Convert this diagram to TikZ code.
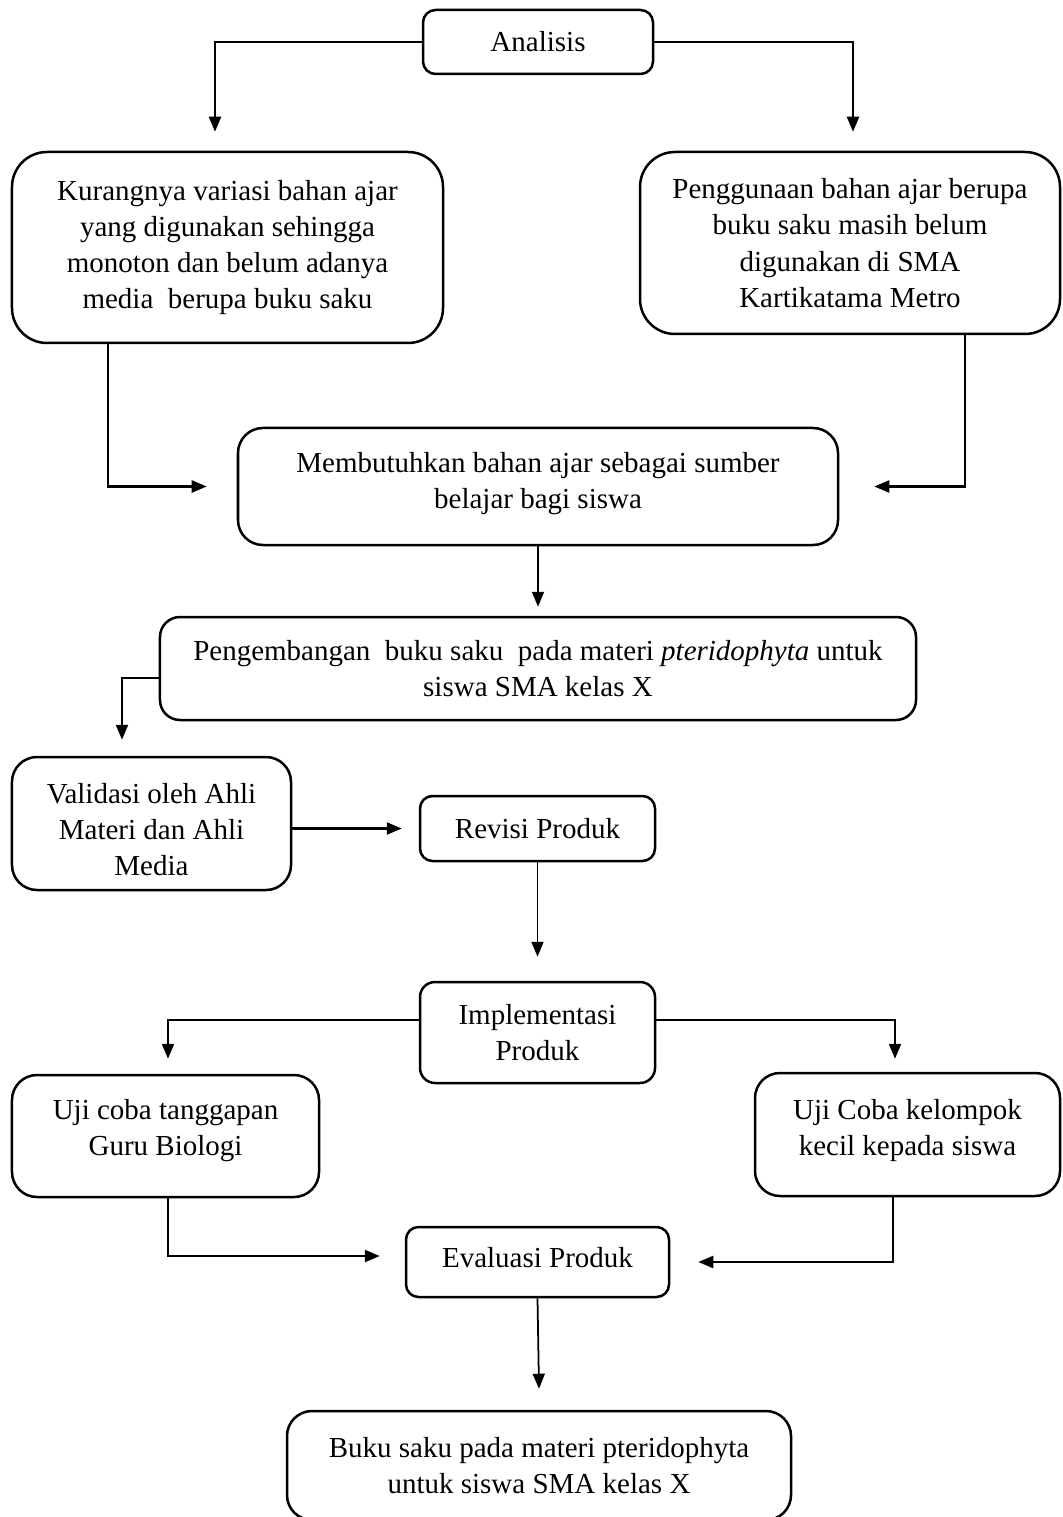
\documentclass[tikz,border=0pt]{standalone}
\usepackage{fontspec}
\setmainfont{Liberation Serif}
\usetikzlibrary{arrows.meta,calc}
\tikzset{
  box/.style={draw, line width=1pt, inner sep=0pt, align=center,
    font=\fontsize{11.6}{14.5}\selectfont},
  conn/.style={line width=0.9pt, -{Triangle[length=6pt,width=4.8pt]}},
  thin/.style={line width=0.7pt, -{Triangle[length=6pt,width=4.8pt]}}
}
\begin{document}
\begin{tikzpicture}[x=0.4pt,y=-0.4pt]
\useasboundingbox (0,0) rectangle (1062,1517);
\node[box, rounded corners=5pt, minimum width=92pt, minimum height=25.6pt] (an) at (538,42) {Analisis};
\node[box, rounded corners=14pt, minimum width=172.4pt, minimum height=76.4pt] (k) at (227.5,247.5)
  {Kurangnya variasi bahan ajar\\yang digunakan sehingga\\monoton dan belum adanya\\media\ \ berupa buku saku};
\node[box, rounded corners=14pt, minimum width=168pt, minimum height=72.8pt] (p) at (850,243)
  {Penggunaan bahan ajar berupa\\buku saku masih belum\\digunakan di SMA\\Kartikatama Metro};
\node[box, rounded corners=10pt, text depth=4.7pt, minimum width=240pt, minimum height=46.8pt] (m) at (538,486.5)
  {Membutuhkan bahan ajar sebagai sumber\\belajar bagi siswa};
\node[box, rounded corners=8pt, minimum width=302.4pt, minimum height=41.2pt] (pg) at (538,668.5)
  {Pengembangan\ \ buku saku\ \ pada materi \textit{pteridophyta} untuk\\siswa SMA kelas X};
\node[box, rounded corners=10pt, minimum width=111.6pt, minimum height=53.2pt] (v) at (151.5,823.5)
  {\rule{0pt}{13pt}Validasi oleh Ahli\\Materi dan Ahli\\Media};
\node[box, rounded corners=5pt, minimum width=94pt, minimum height=26pt] (r) at (537.5,828.5) {Revisi Produk};
\node[box, rounded corners=6pt, minimum width=94pt, minimum height=40.4pt] (im) at (537.5,1032.5) {Implementasi\\Produk};
\node[box, rounded corners=10pt, text depth=6.9pt, minimum width=122.8pt, minimum height=48.8pt] (u1) at (165.5,1136)
  {Uji coba tanggapan\\Guru Biologi};
\node[box, rounded corners=10pt, text depth=5.7pt, minimum width=122pt, minimum height=49.2pt] (u2) at (907.5,1134.5)
  {Uji Coba kelompok\\kecil kepada siswa};
\node[box, rounded corners=5pt, text depth=4pt, minimum width=105.2pt, minimum height=28pt] (ev) at (537.5,1262) {Evaluasi Produk};
\node[box, rounded corners=10pt, minimum width=201.6pt, minimum height=43.6pt] (bk) at (539,1465.5)
  {Buku saku pada materi pteridophyta\\untuk siswa SMA kelas X};

\draw[conn] (an.west) -| ([xshift=-5pt,yshift=7.6pt]k.north);
\draw[conn] (an.east) -| ([xshift=1.2pt,yshift=7.6pt]p.north);
\draw[conn] ([xshift=-47.8pt]k.south) |- ([xshift=-12pt]m.west);
\draw[conn] ([xshift=46pt]p.south) |- ([xshift=14pt]m.east);
\draw[thin] (m.south) -- ([yshift=3.6pt]pg.north);
\draw[conn] ([yshift=-3.8pt]pg.west) -| ([xshift=-11.8pt,yshift=6.4pt]v.north);
\draw[conn] (v.east |- r.west) -- ([xshift=-6.8pt]r.west);
\draw[thin] (r.south) -- ([yshift=9.6pt]im.north);
\draw[conn] ([yshift=5pt]im.west) -| ([xshift=1pt,yshift=6pt]u1.north);
\draw[conn] ([yshift=5pt]im.east) -| ([xshift=-5pt,yshift=5.2pt]u2.north);
\draw[conn] ([xshift=1pt]u1.south) |- ([xshift=-10pt,yshift=2.4pt]ev.west);
\draw[conn] ([xshift=-5.8pt]u2.south) |- ([xshift=11.2pt]ev.east);
\draw[thin] (ev.south) -- ([yshift=8.4pt]bk.north);
\end{tikzpicture}
\end{document}
